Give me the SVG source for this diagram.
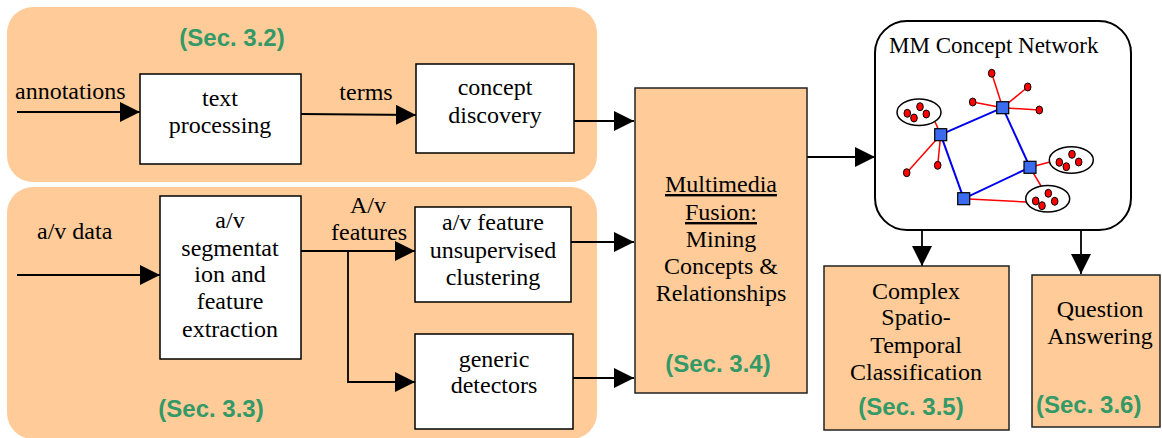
<svg xmlns="http://www.w3.org/2000/svg" width="1162" height="438" viewBox="0 0 1162 438">
<defs>
<marker id="ah" markerUnits="userSpaceOnUse" markerWidth="20" markerHeight="20" refX="20" refY="10" orient="auto">
<path d="M0,0 L20,10 L0,20 z" fill="#000"/>
</marker>
<style>
.t{font-family:Liberation Serif,Times New Roman,serif;font-size:24px;fill:#000}
.m{text-anchor:middle}
.s{font-family:Liberation Sans,Arial,sans-serif;font-size:24px;font-weight:bold;fill:#339966}
.box{fill:#fff;stroke:#000;stroke-width:1.5}
.obox{fill:#FFCC99;stroke:#222;stroke-width:1.5}
.region{fill:#FFCC99}
.arr{fill:none;stroke:#000;stroke-width:1.8;marker-end:url(#ah)}
.bl{stroke:#0000EE;stroke-width:2}
.rl{stroke:#FF0000;stroke-width:1.5}
.dot{fill:#FF0000;stroke:#000;stroke-width:1}
.sq{fill:#3B6CF0;stroke:#000;stroke-width:1.2}
.cl{fill:#fff;stroke:#000;stroke-width:1.5}
</style>
</defs>
<rect width="1162" height="438" fill="#fff"/>

<g id="region-text">
<rect class="region" x="7" y="7" width="590" height="175" rx="26"/>
<text class="s m" x="232" y="46">(Sec. 3.2)</text>
</g>
<g id="region-av">
<rect class="region" x="7" y="187" width="590" height="252" rx="26"/>
<text class="s m" x="211" y="417">(Sec. 3.3)</text>
</g>

<g id="connectors">
<line class="arr" x1="17" y1="112" x2="140" y2="112"/>
<line class="arr" x1="301" y1="114" x2="416" y2="115"/>
<line class="arr" x1="574" y1="121" x2="634" y2="121"/>
<line class="arr" x1="17" y1="275" x2="160" y2="275"/>
<line class="arr" x1="301" y1="251" x2="415" y2="251"/>
<polyline class="arr" points="348,251 348,382 415,382"/>
<line class="arr" x1="571" y1="242" x2="634" y2="242"/>
<line class="arr" x1="573" y1="378" x2="634" y2="378"/>
<line class="arr" x1="807" y1="157" x2="875" y2="157"/>
<line class="arr" x1="922" y1="230" x2="922" y2="266"/>
<line class="arr" x1="1081" y1="230" x2="1081" y2="274"/>
</g>

<g id="label-annotations"><text class="t" x="15" y="99" font-family="Liberation Serif, serif">annotations</text></g>
<g id="label-terms"><text class="t m" x="366" y="100">terms</text></g>
<g id="label-avdata"><text class="t" x="37" y="239">a/v data</text></g>
<g id="label-avfeatures"><text class="t m" x="368" y="213">A/v</text><text class="t m" x="369" y="240">features</text></g>

<g id="text-processing">
<rect class="box" x="140" y="74" width="161" height="90"/>
<text class="t m" x="220" y="106">text</text>
<text class="t m" x="220" y="133">processing</text>
</g>
<g id="concept-discovery">
<rect class="box" x="416" y="64" width="158" height="89"/>
<text class="t m" x="495" y="95">concept</text>
<text class="t m" x="495" y="123">discovery</text>
</g>
<g id="av-segmentation">
<rect class="box" x="160" y="196" width="141" height="163"/>
<text class="t m" x="230" y="228">a/v</text>
<text class="t m" x="230" y="256">segmentat</text>
<text class="t m" x="230" y="282">ion and</text>
<text class="t m" x="230" y="309">feature</text>
<text class="t m" x="230" y="337">extraction</text>
</g>
<g id="av-clustering">
<rect class="box" x="415" y="207" width="156" height="95"/>
<text class="t m" x="493" y="230">a/v feature</text>
<text class="t m" x="493" y="258">unsupervised</text>
<text class="t m" x="493" y="285">clustering</text>
</g>
<g id="generic-detectors">
<rect class="box" x="415" y="334" width="158" height="95"/>
<text class="t m" x="494" y="367">generic</text>
<text class="t m" x="494" y="393">detectors</text>
</g>

<g id="multimedia-fusion">
<rect class="obox" x="635" y="88" width="172" height="305"/>
<text class="t m" x="721" y="192" text-decoration="underline">Multimedia</text>
<text class="t m" x="721" y="220" text-decoration="underline">Fusion:</text>
<text class="t m" x="721" y="247">Mining</text>
<text class="t m" x="721" y="274">Concepts &amp;</text>
<text class="t m" x="721" y="301">Relationships</text>
<text class="s m" x="718" y="372">(Sec. 3.4)</text>
</g>

<g id="mm-concept-network">
<rect x="875" y="21" width="256" height="209" rx="32" fill="#fff" stroke="#000" stroke-width="2"/>
<text class="t" x="889" y="53" style="font-size:23px">MM Concept Network</text>
<g class="edges">
<line class="bl" x1="940.7" y1="134.7" x2="1002.7" y2="107.7"/>
<line class="bl" x1="1002.7" y1="107.7" x2="1030" y2="167.3"/>
<line class="bl" x1="1030" y1="167.3" x2="963.7" y2="198.7"/>
<line class="bl" x1="963.7" y1="198.7" x2="940.7" y2="134.7"/>
<line class="rl" x1="1002.7" y1="107.7" x2="991.7" y2="73.3"/>
<line class="rl" x1="1002.7" y1="107.7" x2="1027.7" y2="87"/>
<line class="rl" x1="1002.7" y1="107.7" x2="972.7" y2="102"/>
<line class="rl" x1="1002.7" y1="107.7" x2="1039.3" y2="110"/>
<line class="rl" x1="940.7" y1="134.7" x2="906.7" y2="172.7"/>
<line class="rl" x1="940.7" y1="134.7" x2="937.7" y2="165.3"/>
<line class="rl" x1="940.7" y1="134.7" x2="935" y2="121.7"/>
<line class="rl" x1="1030" y1="167.3" x2="1050" y2="162"/>
<line class="rl" x1="1030" y1="167.3" x2="1041" y2="186"/>
<line class="rl" x1="963.7" y1="198.7" x2="1026" y2="202"/>
</g>
<ellipse class="cl" cx="919" cy="112.3" rx="22" ry="13.3"/>
<ellipse class="cl" cx="1071.3" cy="160" rx="22" ry="13.3"/>
<ellipse class="cl" cx="1047.7" cy="198.7" rx="22" ry="13.3"/>
<rect class="sq" x="934.7" y="128.7" width="12" height="12"/>
<rect class="sq" x="996.7" y="101.7" width="12" height="12"/>
<rect class="sq" x="1024" y="161.3" width="12" height="12"/>
<rect class="sq" x="957.7" y="192.7" width="12" height="12"/>
<g>
<ellipse class="dot" cx="991.7" cy="73.3" rx="3.3" ry="4"/>
<ellipse class="dot" cx="1027.7" cy="87" rx="3.3" ry="4"/>
<ellipse class="dot" cx="972.7" cy="102" rx="3.3" ry="4"/>
<ellipse class="dot" cx="1039.3" cy="110" rx="3.3" ry="4"/>
<ellipse class="dot" cx="906.7" cy="172.7" rx="3.3" ry="4"/>
<ellipse class="dot" cx="937.7" cy="165.3" rx="3.3" ry="4"/>
<ellipse class="dot" cx="907.3" cy="113.3" rx="3.3" ry="4"/>
<ellipse class="dot" cx="920" cy="106.7" rx="3.3" ry="4"/>
<ellipse class="dot" cx="926.3" cy="114" rx="3.3" ry="4"/>
<ellipse class="dot" cx="914" cy="118" rx="3.3" ry="4"/>
<ellipse class="dot" cx="1059.3" cy="162.3" rx="3.3" ry="4"/>
<ellipse class="dot" cx="1066.3" cy="166.7" rx="3.3" ry="4"/>
<ellipse class="dot" cx="1072" cy="154.3" rx="3.3" ry="4"/>
<ellipse class="dot" cx="1078.7" cy="162" rx="3.3" ry="4"/>
<ellipse class="dot" cx="1035.7" cy="201" rx="3.3" ry="4"/>
<ellipse class="dot" cx="1042" cy="205.7" rx="3.3" ry="4"/>
<ellipse class="dot" cx="1048.3" cy="193.3" rx="3.3" ry="4"/>
<ellipse class="dot" cx="1054.7" cy="201.3" rx="3.3" ry="4"/>
</g>
</g>

<g id="spatio-temporal">
<rect class="obox" x="824" y="266" width="185" height="164"/>
<text class="t m" x="916" y="299">Complex</text>
<text class="t m" x="916" y="325">Spatio-</text>
<text class="t m" x="916" y="353">Temporal</text>
<text class="t m" x="916" y="380">Classification</text>
<text class="s m" x="911" y="415">(Sec. 3.5)</text>
</g>
<g id="question-answering">
<rect class="obox" x="1032" y="275" width="128" height="152"/>
<text class="t m" x="1100" y="317">Question</text>
<text class="t m" x="1100" y="344">Answering</text>
<text class="s" x="1036" y="413">(Sec. 3.6)</text>
</g>
</svg>
